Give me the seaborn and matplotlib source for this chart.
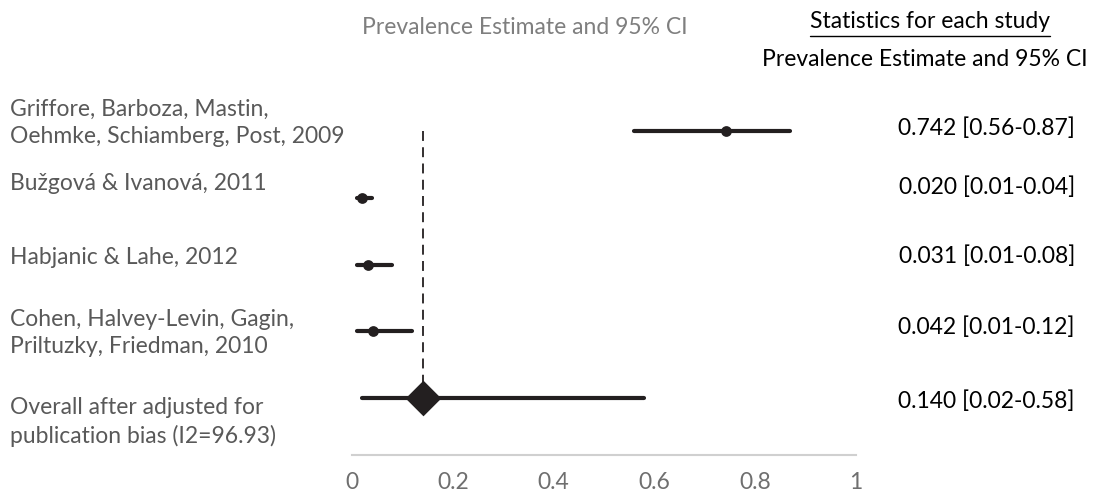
import matplotlib
matplotlib.use("Agg")
import matplotlib.pyplot as plt
import seaborn as sns
import pandas as pd
import numpy as np

studies = [
    "Griffore, Barboza, Mastin,\nOehmke, Schiamberg, Post, 2009",
    "Bužgová & Ivanová, 2011",
    "Habjanic & Lahe, 2012",
    "Cohen, Halvey-Levin, Gagin,\nPriltuzky, Friedman, 2010",
    "Overall after adjusted for\npublication bias (I2=96.93)",
]
estimate = [0.742, 0.020, 0.031, 0.042, 0.140]
lower = [0.56, 0.01, 0.01, 0.01, 0.02]
upper = [0.87, 0.04, 0.08, 0.12, 0.58]
stat_labels = ["0.742 [0.56-0.87]", "0.020 [0.01-0.04]", "0.031 [0.01-0.08]",
               "0.042 [0.01-0.12]", "0.140 [0.02-0.58]"]
xticks = [0, 0.2, 0.4, 0.6, 0.8, 1]
xtick_labels = ["0", "0.2", "0.4", "0.6", "0.8", "1"]

sns.set_style("white")
plt.rcParams['font.family'] = ['Lato', 'DejaVu Sans']

df = pd.DataFrame({"study": studies, "est": estimate, "lo": lower, "hi": upper,
                   "row": np.arange(len(studies)),
                   "kind": ["study"] * 4 + ["overall"]})

W, H = 1101, 493
FS = 16.5
fig = plt.figure(figsize=(W / 100, H / 100), dpi=100)
ax_left, ax_right = 352 / W, 856 / W
y_top_px, y_bot_px = 100, 455
ax = fig.add_axes([ax_left, 1 - y_bot_px / H, ax_right - ax_left, (y_bot_px - y_top_px) / H])

spacing = 66.75
ax.set_xlim(0, 1)
ax.set_ylim(4 + (y_bot_px - 398) / spacing, 0 - (131 - y_top_px) / spacing)

dark = "#231f20"
gray = "#595959"

# CI lines
ax.hlines(df["row"], df["lo"], df["hi"], color=dark, lw=3.0, capstyle="round", zorder=2)
# dashed reference line at overall estimate
ov = df[df["kind"] == "overall"].iloc[0]
ax.vlines(ov["est"], 0, ov["row"], color=dark, lw=1.3, linestyles=(0, (5.5, 3.5)), zorder=1)

sns.scatterplot(data=df[df["kind"] == "study"], x="est", y="row", ax=ax,
                color=dark, s=60, marker="o", edgecolor=dark, linewidth=0, zorder=3, legend=False)
sns.scatterplot(data=df[df["kind"] == "overall"], x="est", y="row", ax=ax,
                color=dark, s=330, marker="D", edgecolor=dark, linewidth=0, zorder=3, legend=False)

ax.set_xlabel("")
ax.set_ylabel("")
ax.set_yticks([])
ax.set_xticks(xticks)
ax.set_xticklabels(xtick_labels, color="#6f6f6f", fontsize=FS)
ax.tick_params(axis="x", length=0, pad=12)
for s in ["top", "right", "left"]:
    ax.spines[s].set_visible(False)
ax.spines["bottom"].set_color("#d0d0d0")
ax.spines["bottom"].set_linewidth(1.5)

# left study labels (figure pixel positions, center y)
label_y = [123, 183, 258, 333, 422]
for lab, yp in zip(studies, label_y):
    fig.text(10 / W, 1 - yp / H, lab, ha="left", va="center", color=gray,
             fontsize=FS, linespacing=1.38)

stat_y = [128, 187, 256, 327, 401]
for lab, yp in zip(stat_labels, stat_y):
    fig.text(1075 / W, 1 - yp / H, lab, ha="right", va="center", color="black", fontsize=FS)

fig.text(525 / W, 1 - 27 / H, "Prevalence Estimate and 95% CI", ha="center", va="center",
         color="#7f7f7f", fontsize=FS)
t = fig.text(930 / W, 1 - 22 / H, "Statistics for each study", ha="center", va="center",
             color="black", fontsize=FS)
fig.text(1088 / W, 1 - 60 / H, "Prevalence Estimate and 95% CI", ha="right", va="center",
         color="black", fontsize=FS)

# underline for the header
fig.canvas.draw()
bb = t.get_window_extent()
fig.add_artist(plt.Line2D([bb.x0 / W, bb.x1 / W], [(H - 36) / H, (H - 36) / H],
                          color="black", lw=1.0, transform=fig.transFigure))

fig.savefig("out.png", dpi=100)
